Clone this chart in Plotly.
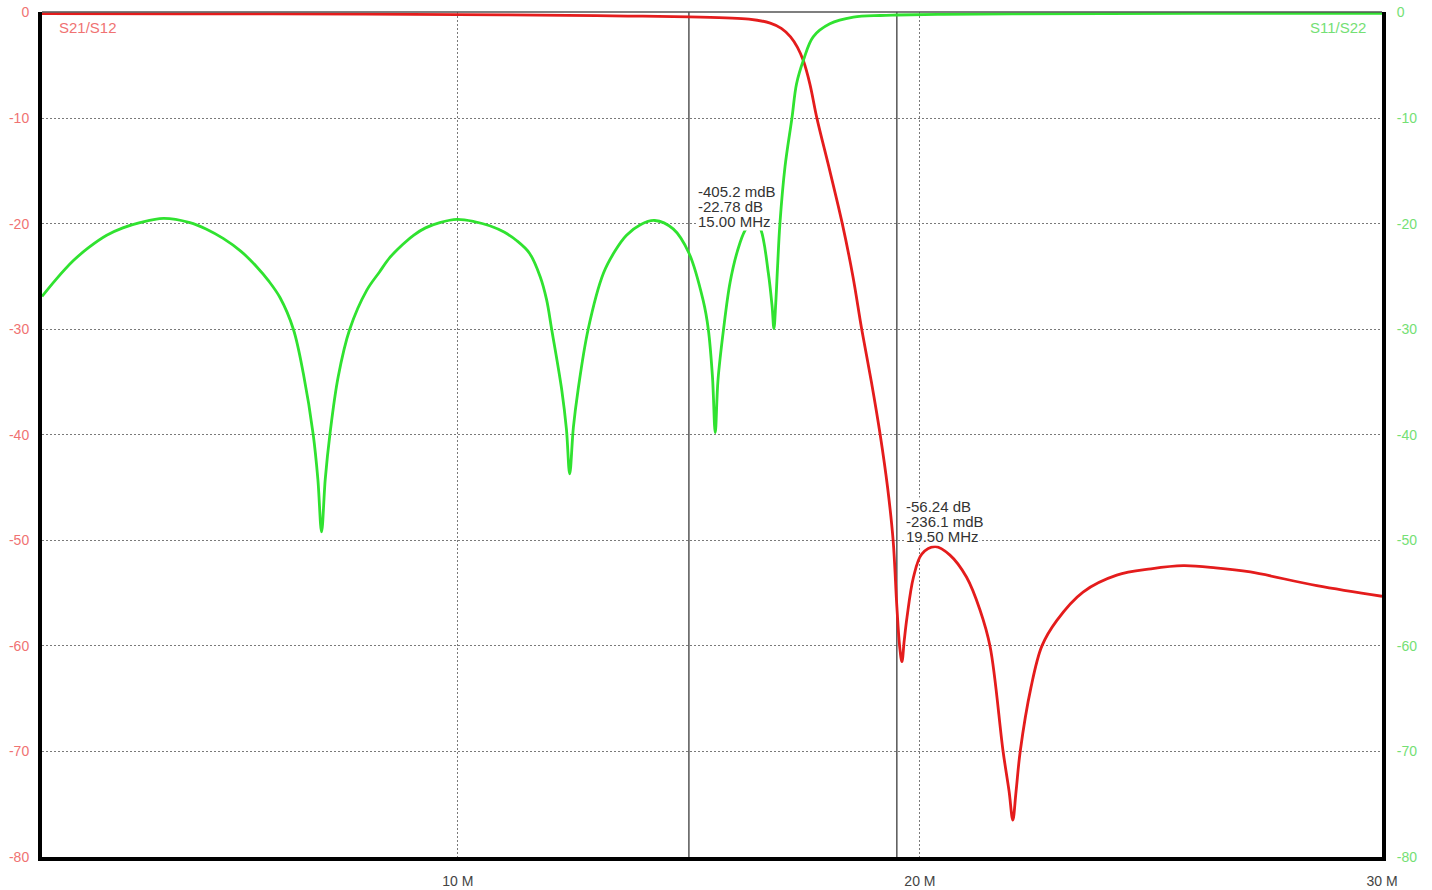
import plotly.graph_objects as go

# ---- data ----
freq_s11 = [1.0, 1.3, 1.68, 2.0, 2.4, 2.75, 3.12, 3.63, 4.2, 4.55, 4.92, 5.3, 5.65, 5.9, 6.15, 6.44,
            6.66, 6.87, 6.97, 7.05, 7.13, 7.23, 7.41, 7.66, 8.03, 8.3, 8.53, 8.8, 9.04, 9.3, 9.61,
            9.98, 10.35, 10.69, 11.0, 11.27, 11.55, 11.78, 11.92, 12.03, 12.25, 12.35, 12.42, 12.5,
            12.6, 12.82, 13.15, 13.4, 13.65, 13.95, 14.26, 14.66, 15.0, 15.31, 15.42, 15.51, 15.57,
            15.63, 15.75, 15.89, 16.05, 16.22, 16.42, 16.56, 16.72, 16.8, 16.84, 16.88, 16.92, 16.97,
            17.08, 17.23, 17.33, 17.48, 17.69, 18.05, 18.56, 19.14, 19.5, 20.5, 22.0, 24.0, 27.0, 30.0]
s11_db = [-26.9, -25.3, -23.5, -22.3, -21.1, -20.4, -19.9, -19.5, -19.9, -20.5, -21.4, -22.6, -24.1,
          -25.4, -27.0, -30.0, -34.3, -40.0, -44.2, -49.2, -44.2, -40.0, -34.5, -30.0, -26.3, -24.6,
          -23.2, -22.0, -21.1, -20.4, -19.9, -19.6, -19.8, -20.2, -20.8, -21.6, -22.8, -25.0, -27.2,
          -30.0, -35.8, -39.5, -43.7, -39.3, -35.8, -30.0, -24.7, -22.6, -21.1, -20.1, -19.7, -20.5,
          -22.78, -27.3, -30.0, -34.5, -39.8, -34.8, -30.0, -25.6, -22.6, -20.6, -19.6, -20.6, -24.7,
          -27.8, -29.95, -27.5, -24.0, -20.0, -14.6, -10.0, -6.75, -4.5, -2.3, -1.07, -0.44, -0.28,
          -0.236, -0.17, -0.12, -0.1, -0.08, -0.07]

freq_s21 = [1.0, 4.0, 8.0, 11.0, 13.0, 14.0, 15.0, 15.8, 16.3, 16.76, 17.0, 17.2, 17.35, 17.48,
            17.62, 17.77, 18.05, 18.32, 18.55, 18.74, 18.95, 19.14, 19.3, 19.42, 19.5, 19.56, 19.61,
            19.66, 19.72, 19.86, 20.04, 20.33, 20.65, 21.01, 21.30, 21.52, 21.8, 21.93, 22.01, 22.08,
            22.17, 22.4, 22.64, 22.96, 23.53, 24.26, 25.0, 25.7, 26.4, 27.15, 28.59, 30.0]
s21_db = [-0.1, -0.12, -0.16, -0.22, -0.3, -0.35, -0.405, -0.5, -0.62, -1.0, -1.5, -2.3, -3.3, -4.6,
          -6.8, -10.0, -15.0, -20.0, -25.0, -30.0, -35.0, -40.0, -45.0, -50.0, -56.24, -60.0, -61.5,
          -59.5, -57.3, -53.5, -51.3, -50.6, -51.4, -53.5, -56.6, -60.1, -70.0, -73.8, -76.5, -73.8,
          -70.0, -64.0, -60.0, -57.6, -54.9, -53.3, -52.7, -52.4, -52.6, -53.0, -54.3, -55.3]

x_tickvals = [10, 20, 30]
x_ticktext = ["10 M", "20 M", "30 M"]
y_tickvals = [0, -10, -20, -30, -40, -50, -60, -70, -80]
y_ticktext = ["0", "-10", "-20", "-30", "-40", "-50", "-60", "-70", "-80"]

marker_freqs = [15.0, 19.5]
marker_lines = [["-405.2 mdB", "-22.78 dB", "15.00 MHz"],
                ["-56.24 dB", "-236.1 mdB", "19.50 MHz"]]
marker_text_x = [15.17, 19.68]
marker_text_y = [[-17.0, -18.42, -19.84], [-46.75, -48.17, -49.59]]

RED = "#e41c1c"
GREEN = "#30e230"
RED_LBL = "#f07272"
GREEN_LBL = "#74e074"

fig = go.Figure()
fig.add_trace(go.Scatter(x=freq_s21, y=s21_db, mode="lines", name="S21/S12",
                         line=dict(color=RED, width=2.8, shape="spline", smoothing=1.0)))
fig.add_trace(go.Scatter(x=freq_s11, y=s11_db, mode="lines", name="S11/S22", yaxis="y2",
                         line=dict(color=GREEN, width=2.8, shape="spline", smoothing=1.0)))

yrange = [-80, 0.05]
fig.update_layout(
    width=1432, height=890,
    margin=dict(l=42, r=50, t=12, b=33, autoexpand=False),
    paper_bgcolor="white", plot_bgcolor="white",
    showlegend=False,
    font=dict(family="Liberation Sans, Arial, sans-serif"),
    xaxis=dict(range=[1, 30], tickvals=x_tickvals, ticktext=x_ticktext, automargin=False,
               tickfont=dict(size=14, color="#444"), ticks="", ticklabelstandoff=8,
               showgrid=True, gridcolor="#7a7a7a", griddash="2px,2px", gridwidth=1,
               showline=True, linecolor="black", linewidth=4, zeroline=False),
    yaxis=dict(range=yrange, tickvals=y_tickvals, ticktext=y_ticktext,
               tickfont=dict(size=14, color=RED_LBL),
               ticks="", ticklabelstandoff=6, automargin=False,
               showgrid=True, gridcolor="#7a7a7a", griddash="2px,2px", gridwidth=1,
               showline=True, linecolor="black", linewidth=4, zeroline=False),
    yaxis2=dict(range=yrange, tickvals=y_tickvals, ticktext=y_ticktext,
                tickfont=dict(size=14, color=GREEN_LBL),
                overlaying="y", side="right", ticks="", ticklabelstandoff=8, automargin=False,
                showgrid=False, showline=True, linecolor="black", linewidth=4, zeroline=False),
)

# top border (thin)
fig.add_shape(type="line", xref="paper", yref="paper", x0=0, x1=1, y0=1, y1=1,
              line=dict(color="#555", width=1.5))

# marker lines and readouts
for f, lines, tx, tys in zip(marker_freqs, marker_lines, marker_text_x, marker_text_y):
    fig.add_shape(type="line", xref="x", yref="paper", x0=f, x1=f, y0=0, y1=1,
                  line=dict(color="#555", width=1.5), layer="below")
    for txt, ty in zip(lines, tys):
        fig.add_annotation(x=tx, y=ty, xref="x", yref="y", text=txt, showarrow=False,
                           xanchor="left", yanchor="middle", align="left",
                           font=dict(size=15, color="#333"), bgcolor="white", borderpad=0)

fig.add_annotation(x=0.011, y=0.982, xref="paper", yref="paper", text="S21/S12",
                   showarrow=False, xanchor="left", yanchor="middle",
                   font=dict(size=15, color=RED_LBL))
fig.add_annotation(x=0.9896, y=0.982, xref="paper", yref="paper", text="S11/S22",
                   showarrow=False, xanchor="right", yanchor="middle",
                   font=dict(size=15, color=GREEN_LBL))

fig.write_html("out.html", config={"displayModeBar": False},
               post_script="document.body.style.margin='0';document.body.style.overflow='hidden';")
